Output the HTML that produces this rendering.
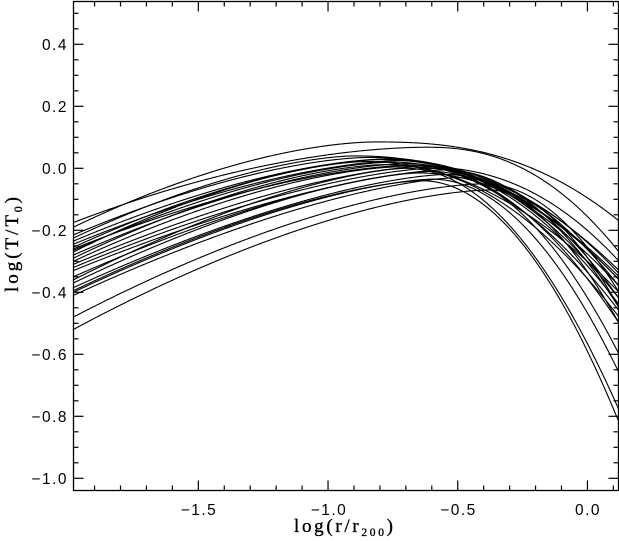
<!DOCTYPE html>
<html><head><meta charset="utf-8">
<style>html,body{margin:0;padding:0;background:#fff;}svg{display:block}</style></head>
<body>
<svg id="s" width="619" height="541" xmlns="http://www.w3.org/2000/svg">
<defs><clipPath id="cp"><rect x="73.5" y="1.5" width="545" height="489"/></clipPath></defs>
<rect width="619" height="541" fill="#fff"/>
<g id="curves" fill="none" stroke="#000" stroke-width="1.1" clip-path="url(#cp)"></g>
<g id="ticks" stroke="#000" stroke-width="1.2"></g>
<rect x="73.5" y="1.5" width="545" height="489" fill="none" stroke="#000" stroke-width="1.3"/>
<g font-family="Liberation Sans, sans-serif" font-size="15.5" fill="#000" letter-spacing="1.5" text-anchor="end">
<text x="68" y="49.8">0.4</text>
<text x="68" y="111.8">0.2</text>
<text x="68" y="173.8">0.0</text>
<text x="68" y="235.8">−0.2</text>
<text x="68" y="297.8">−0.4</text>
<text x="68" y="359.8">−0.6</text>
<text x="68" y="421.8">−0.8</text>
<text x="68" y="483.8">−1.0</text>
</g>
<g font-family="Liberation Sans, sans-serif" font-size="15.5" fill="#000" letter-spacing="1.5" text-anchor="middle">
<text x="199" y="515">−1.5</text>
<text x="329" y="515">−1.0</text>
<text x="458.5" y="515">−0.5</text>
<text x="588" y="515">0.0</text>
</g>
<text x="294" y="532" font-family="Liberation Serif, serif" font-size="19" fill="#000" stroke="#000" stroke-width="0.35" textLength="99" lengthAdjust="spacing">log(r/r<tspan font-size="11.5" dy="4">200</tspan><tspan dy="-4">)</tspan></text>
<text transform="translate(18,292) rotate(-90)" font-family="Liberation Serif, serif" font-size="19" fill="#000" stroke="#000" stroke-width="0.35" textLength="95" lengthAdjust="spacing">log(T/T<tspan font-size="11.5" dy="4">0</tspan><tspan dy="-4">)</tspan></text>
</svg>
<script>
(function(){
var NS="http://www.w3.org/2000/svg";
function px(L){return 73.3+(L+1.982)*259.4;}
function py(v){return 168.3-v*310;}
var curves=[
[-0.19,-0.82,0.085,-0.17,1.7,2.5],
[-0.175,-0.62,0.068,-0.27,1.8,2.3],
[-0.215,-0.85,0.035,-0.33,1.6,2.2],
[-0.225,-0.9,0.04,-0.35,1.6,2.2],
[-0.235,-0.78,0.03,-0.38,1.6,2.0],
[-0.245,-0.72,0.025,-0.42,1.6,2.0],
[-0.255,-0.80,0.028,-0.36,1.6,2.1],
[-0.26,-0.68,0.01,-0.50,1.6,2.0],
[-0.265,-0.75,0.02,-0.46,1.6,2.0],
[-0.27,-0.85,0.022,-0.40,1.6,2.0],
[-0.28,-0.70,0.015,-0.44,1.6,2.0],
[-0.29,-0.78,0.012,-0.48,1.6,2.0],
[-0.30,-0.72,0.005,-0.34,1.6,2.2],
[-0.31,-0.65,0.005,-0.30,1.5,2.3],
[-0.32,-0.60,0.0,-0.38,1.5,2.0],
[-0.33,-0.55,-0.005,-0.45,1.5,2.0],
[-0.35,-0.60,-0.01,-0.60,1.5,2.0],
[-0.36,-0.70,0.0,-0.78,1.5,2.0],
[-0.37,-0.65,-0.015,-0.36,1.5,2.0],
[-0.385,-0.55,-0.02,-0.42,1.5,2.0],
[-0.395,-0.64,-0.04,-0.82,1.5,2.0],
[-0.40,-0.60,-0.035,-0.66,1.5,2.0],
[-0.41,-0.50,-0.03,-0.50,1.5,2.0],
[-0.48,-0.40,-0.05,-0.40,1.6,2.0],
[-0.52,-0.38,-0.07,-0.45,1.6,2.0]
];
var g=document.getElementById("curves");
curves.forEach(function(c){
 var vl=c[0],xp=c[1],p=c[2],vr=c[3],nL=c[4],nR=c[5];
 var cL=(p-vl)/Math.pow(xp+1.982,nL), cR=(p-vr)/Math.pow(0.122-xp,nR);
 var d="";
 for(var L=-1.99;L<=0.13;L+=0.004){
  var v= L<xp ? p-cL*Math.pow(xp-L,nL) : p-cR*Math.pow(L-xp,nR);
  d+=(d?"L":"M")+px(L).toFixed(2)+" "+py(v).toFixed(2);
 }
 var e=document.createElementNS(NS,"path");e.setAttribute("d",d);g.appendChild(e);
});
var t=document.getElementById("ticks");
function ln(x1,y1,x2,y2){var e=document.createElementNS(NS,"line");e.setAttribute("x1",x1);e.setAttribute("y1",y1);e.setAttribute("x2",x2);e.setAttribute("y2",y2);t.appendChild(e);}
for(var i=-19;i<=1;i++){
 var L=i/10, x=px(L), len=(i%5===0)?10:5;
 ln(x,490.5,x,490.5-len); ln(x,1.5,x,1.5+len);
}
for(var j=-20;j<=10;j++){
 var v=j*0.05, y=py(v), len2=(j%4===0)?10:5;
 if(y<1.5||y>490.5)continue;
 ln(73.5,y,73.5+len2,y); ln(618.5,y,618.5-len2,y);
}
})();
</script>
</body></html>
